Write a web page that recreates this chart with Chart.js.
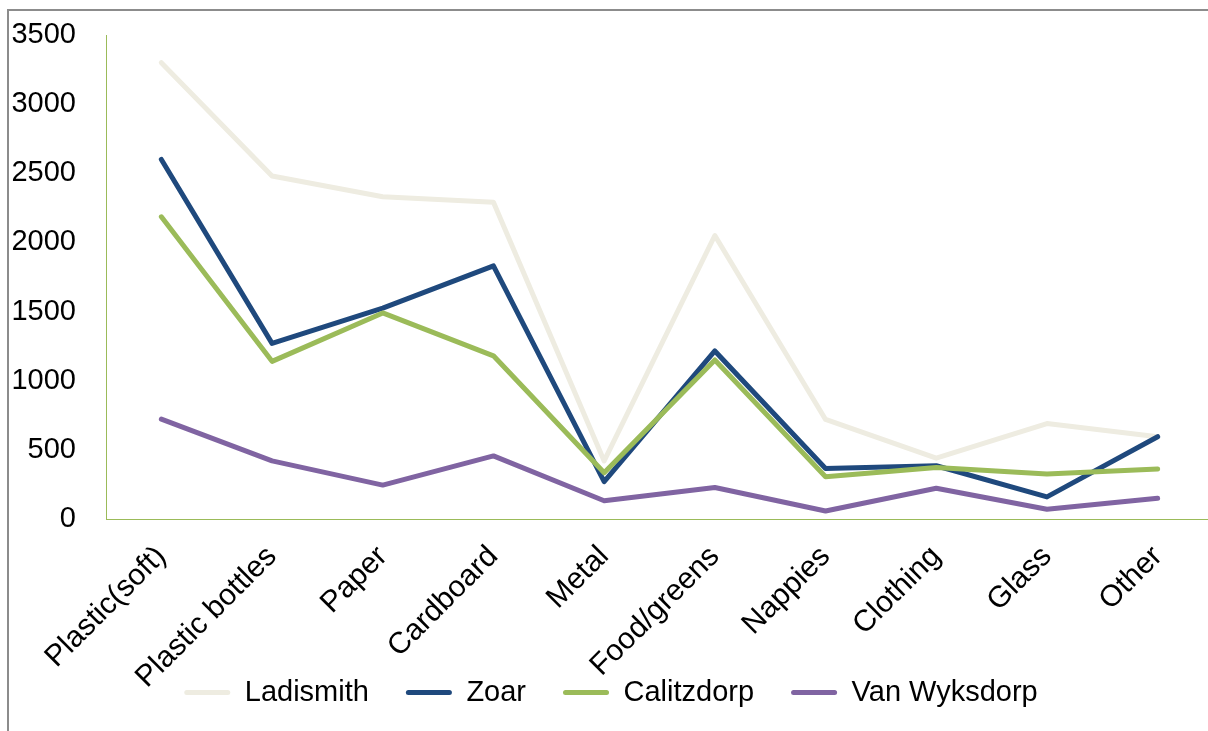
<!DOCTYPE html>
<html>
<head>
<meta charset="utf-8">
<script src="https://cdn.jsdelivr.net/npm/chart.js@4.4.1/dist/chart.umd.min.js"></script>
<style>
  html, body { margin: 0; padding: 0; background: #fff; overflow: hidden; }
  #frame {
    position: absolute; left: 7px; top: 9px;
    border-left: 2px solid #8c8c8c; border-top: 2px solid #8c8c8c;
    width: 1204px; height: 720px;
  }
  #wrap { width: 1204px; height: 720px; }
</style>
</head>
<body>
<div id="frame"><div id="wrap"><canvas id="waste"></canvas></div></div>
<script>
const categories = ['Plastic(soft)', 'Plastic bottles', 'Paper', 'Cardboard', 'Metal',
  'Food/greens', 'Nappies', 'Clothing', 'Glass', 'Other'];
const ladismith   = [3300, 2480, 2330, 2290, 420, 2050, 720, 440, 690, 595];
const zoar        = [2600, 1270, 1525, 1830, 270, 1215, 365, 385, 160, 595];
const calitzdorp  = [2185, 1140, 1490, 1180, 335, 1150, 305, 372, 325, 362];
const vanWyksdorp = [722, 420, 245, 456, 132, 228, 58, 222, 70, 150];
const yTicks = [0, 500, 1000, 1500, 2000, 2500, 3000, 3500];

const font = { family: "'Liberation Sans', Arial, sans-serif", size: 29 };
const axisGreen = '#9bbb59';

function line(label, data, color) {
  return {
    label, data,
    borderColor: color, backgroundColor: color,
    borderWidth: 5, pointRadius: 0, tension: 0,
    borderJoinStyle: 'round', borderCapStyle: 'round'
  };
}

const ctx = document.getElementById('waste').getContext('2d');
new Chart(ctx, {
  type: 'line',
  data: {
    labels: categories,
    // listed last-to-first so the first town sits underneath
    datasets: [
      line('Van Wyksdorp', vanWyksdorp, '#8064a2'),
      line('Calitzdorp', calitzdorp, '#9bbb59'),
      line('Zoar', zoar, '#1f497d'),
      line('Ladismith', ladismith, '#eeece1')
    ]
  },
  options: {
    responsive: true,
    maintainAspectRatio: false,
    animation: false,
    layout: { padding: { top: 24, right: 0, bottom: 14, left: 0 } },
    scales: {
      x: {
        offset: true,
        afterFit: s => {
          s.height = 122;
          // slanted names run down into the legend band, don't cut them
          s._computeLabelArea = () => undefined;
        },
        grid: { display: false, drawTicks: false },
        border: { color: axisGreen, width: 1 },
        ticks: { color: '#000', font: { ...font, size: 30 }, maxRotation: 45, minRotation: 45, padding: 20, autoSkip: false }
      },
      y: {
        min: 0, max: 3500,
        afterBuildTicks: s => { s.ticks = yTicks.map(v => ({ value: v })); },
        afterFit: s => { s.width = 97; s.paddingTop = 0; s.paddingBottom = 0; },
        grid: { display: false, drawTicks: false },
        border: { color: axisGreen, width: 1 },
        ticks: { color: '#000', font, padding: 30, callback: v => String(v) }
      }
    },
    plugins: {
      tooltip: { enabled: false },
      legend: {
        position: 'bottom',
        reverse: true,
        labels: {
          color: '#000', font,
          boxWidth: 46, boxHeight: 5,
          useBorderRadius: true, borderRadius: 2.5,
          padding: 37,
          generateLabels: chart => Chart.defaults.plugins.legend.labels
            .generateLabels(chart).map(item => ({ ...item, lineWidth: 0 }))
        }
      }
    }
  }
});
</script>
</body>
</html>
